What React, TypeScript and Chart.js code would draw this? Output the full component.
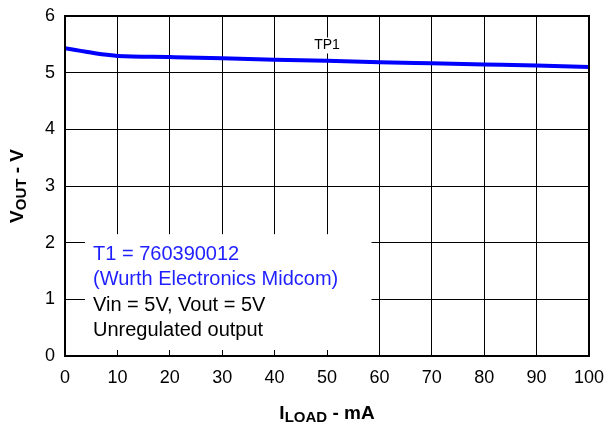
import React, { useEffect, useRef } from "react";
import { Chart, registerables } from "chart.js";

Chart.register(...registerables);

const loadCurrentMA = [0, 2, 4, 6, 8, 10, 20, 30, 40, 50, 60, 70, 80, 90, 100];
const vOutTP1 = [5.43, 5.4, 5.37, 5.34, 5.315, 5.295, 5.275, 5.255, 5.23, 5.21, 5.185, 5.165, 5.145, 5.125, 5.1];
const xTicks = [0, 10, 20, 30, 40, 50, 60, 70, 80, 90, 100];
const yTicks = [0, 1, 2, 3, 4, 5, 6];
const seriesLabel = "TP1";
const noteBlue = ["T1 = 760390012", "(Wurth Electronics Midcom)"];
const noteBlack = ["Vin = 5V, Vout = 5V", "Unregulated output"];

const FONT = "'Liberation Sans', Arial, sans-serif";

const overlay = {
  id: "overlay",
  afterDatasetsDraw(chart: any) {
    const { ctx, chartArea: a, scales } = chart;
    const xs = scales.x;
    const ys = scales.y;
    ctx.save();
    // annotation box (white, hides grid)
    const bx0 = a.left + 20;
    const bx1 = xs.getPixelForValue(58.5);
    const by0 = ys.getPixelForValue(2.15);
    const by1 = a.bottom - 6;
    ctx.fillStyle = "#ffffff";
    ctx.fillRect(bx0, by0, bx1 - bx0, by1 - by0);
    ctx.font = "20px " + FONT;
    ctx.textBaseline = "middle";
    ctx.textAlign = "left";
    const tx = a.left + 28;
    const lines = [...noteBlue, ...noteBlack];
    lines.forEach((t, i) => {
      ctx.fillStyle = i < noteBlue.length ? "#1f1fff" : "#000000";
      ctx.fillText(t, tx, by0 + 20 + i * 25.5);
    });
    // series label
    ctx.font = "14px " + FONT;
    const lx = xs.getPixelForValue(50);
    const ly = ys.getPixelForValue(5.48);
    const w = ctx.measureText(seriesLabel).width;
    ctx.fillStyle = "#ffffff";
    ctx.fillRect(lx - w / 2 - 1, ly - 8, w + 2, 16);
    ctx.fillStyle = "#000000";
    ctx.textAlign = "center";
    ctx.fillText(seriesLabel, lx, ly);
    // frame
    ctx.strokeStyle = "#000";
    ctx.lineWidth = 2;
    ctx.strokeRect(a.left, a.top, a.right - a.left, a.bottom - a.top);
    // titles
    ctx.fillStyle = "#000";
    ctx.textBaseline = "alphabetic";
    const drawSub = (parts: [string, boolean][], x: number, y: number, rot: boolean) => {
      ctx.save();
      ctx.translate(x, y);
      if (rot) ctx.rotate(-Math.PI / 2);
      let total = 0;
      parts.forEach(([t, sub]) => {
        ctx.font = "bold " + (sub ? 15 : 19) + "px " + FONT;
        total += ctx.measureText(t).width;
      });
      let cx = -total / 2;
      ctx.textAlign = "left";
      parts.forEach(([t, sub]) => {
        ctx.font = "bold " + (sub ? 15 : 19) + "px " + FONT;
        ctx.fillText(t, cx, sub ? 10 : 7);
        cx += ctx.measureText(t).width;
      });
      ctx.restore();
    };
    drawSub([["I", false], ["LOAD", true], [" - mA", false]], (a.left + a.right) / 2, 412, false);
    drawSub([["V", false], ["OUT", true], [" - V", false]], 16, (a.top + a.bottom) / 2, true);
    ctx.restore();
  },
};

export default function App() {
  const ref = useRef<HTMLCanvasElement>(null);
  useEffect(() => {
    document.body.style.margin = "0";
    const chart = new Chart(ref.current!, {
      type: "line",
      data: {
        datasets: [
          {
            label: seriesLabel,
            data: loadCurrentMA.map((x, i) => ({ x, y: vOutTP1[i] })),
            borderColor: "#0000ff",
            borderWidth: 4,
            pointRadius: 0,
            cubicInterpolationMode: "monotone",
          },
        ],
      },
      options: {
        animation: false,
        responsive: false,
        layout: { padding: { top: 16, right: 19, left: 0, bottom: 0 } },
        plugins: { legend: { display: false }, tooltip: { enabled: false } },
        scales: {
          x: {
            type: "linear",
            min: 0,
            max: 100,
            afterBuildTicks: (s: any) => {
              s.ticks = xTicks.map((v) => ({ value: v }));
            },
            afterFit: (s: any) => {
              s.height = 73;
              s.paddingLeft = 0;
              s.paddingRight = 0;
            },
            grid: { color: "#000", lineWidth: 1, drawTicks: false },
            border: { display: false },
            ticks: { color: "#000", font: { family: FONT, size: 18 }, padding: 11, maxRotation: 0 },
          },
          y: {
            min: 0,
            max: 6,
            afterBuildTicks: (s: any) => {
              s.ticks = yTicks.map((v) => ({ value: v }));
            },
            afterFit: (s: any) => {
              s.width = 65;
              s.paddingTop = 0;
              s.paddingBottom = 0;
            },
            grid: { color: "#000", lineWidth: 1, drawTicks: false },
            border: { display: false },
            ticks: { color: "#000", font: { family: FONT, size: 18 }, padding: 10 },
          },
        },
      },
      plugins: [overlay],
    });
    return () => chart.destroy();
  }, []);
  return <canvas ref={ref} width={608} height={429} style={{ display: "block" }} />;
}
